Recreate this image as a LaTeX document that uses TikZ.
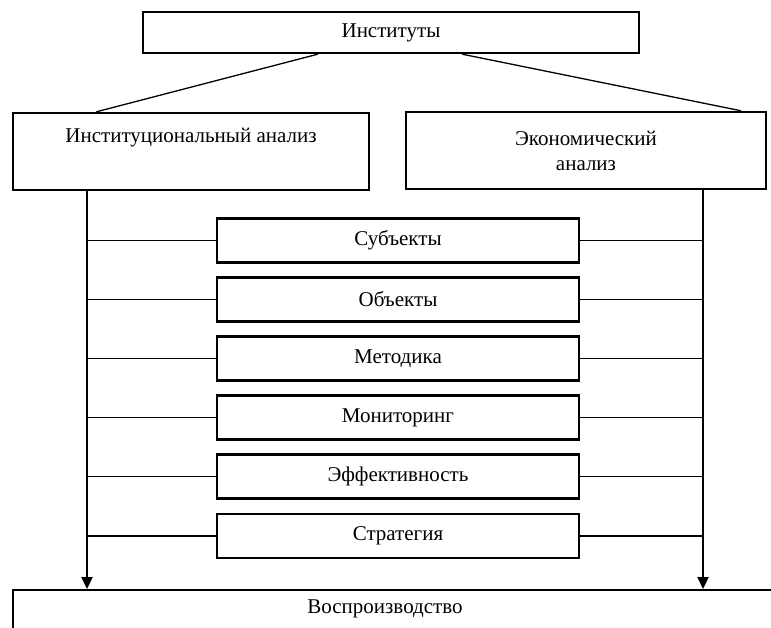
\documentclass[tikz,border=0pt]{standalone}
\usepackage{fontspec}
\setmainfont{Liberation Serif}
\usetikzlibrary{arrows.meta,calc}
\begin{document}
\begin{tikzpicture}[x=1pt,y=-1pt,
  box/.style={draw,line width=2.4pt,inner sep=0pt,align=center,font=\fontsize{21}{25}\selectfont},
  midbox/.style={box,minimum width=362pt,minimum height=44pt},
  thin/.style={line width=1.3pt},
  trunk/.style={line width=2.2pt,-{Triangle[width=11pt,length=12pt]}}]
\useasboundingbox (0,0) rectangle (771,628);
\node[box,minimum width=496pt,minimum height=41pt] (inst) at (391,32.5) {Институты};
\node[box,minimum width=356pt,minimum height=77pt] (ia) at (191,151.5) {Институциональный анализ\\\strut};
\node[box,minimum width=360pt,minimum height=77pt] (ea) at (586,150.5) {Экономический\\анализ};
\node[midbox] (m1) at (398,240.5) {Субъекты};
\node[midbox] (m2) at (398,299.5) {Объекты};
\node[midbox] (m3) at (398,358.5) {Методика};
\node[midbox] (m4) at (398,417.5) {Мониторинг};
\node[midbox] (m5) at (398,476.5) {Эффективность};
\node[midbox] (m6) at (398,536) {Стратегия};
\node[box,anchor=north west,minimum width=800pt,minimum height=60pt] (rep) at (12,589) {};
\node[font=\fontsize{21}{25}\selectfont] (reptext) at (385,609) {Воспроизводство};
\coordinate (lx) at (87,0);
\coordinate (rx) at (703,0);
\draw[thin] ($(inst.south west)!0.353!(inst.south east)$) -- ($(ia.north west)!0.236!(ia.north east)$);
\draw[thin] ($(inst.south west)!0.643!(inst.south east)$) -- ($(ea.north west)!0.928!(ea.north east)$);
\draw[trunk] (ia.south -| lx) -- (rep.north -| lx);
\draw[trunk] (ea.south -| rx) -- (rep.north -| rx);
\foreach \m in {m1,m2,m3,m4,m5,m6}{
  \draw[thin] (\m.west -| lx) -- (\m.west);
  \draw[thin] (\m.east) -- (\m.east -| rx);
}
\end{tikzpicture}
\end{document}
